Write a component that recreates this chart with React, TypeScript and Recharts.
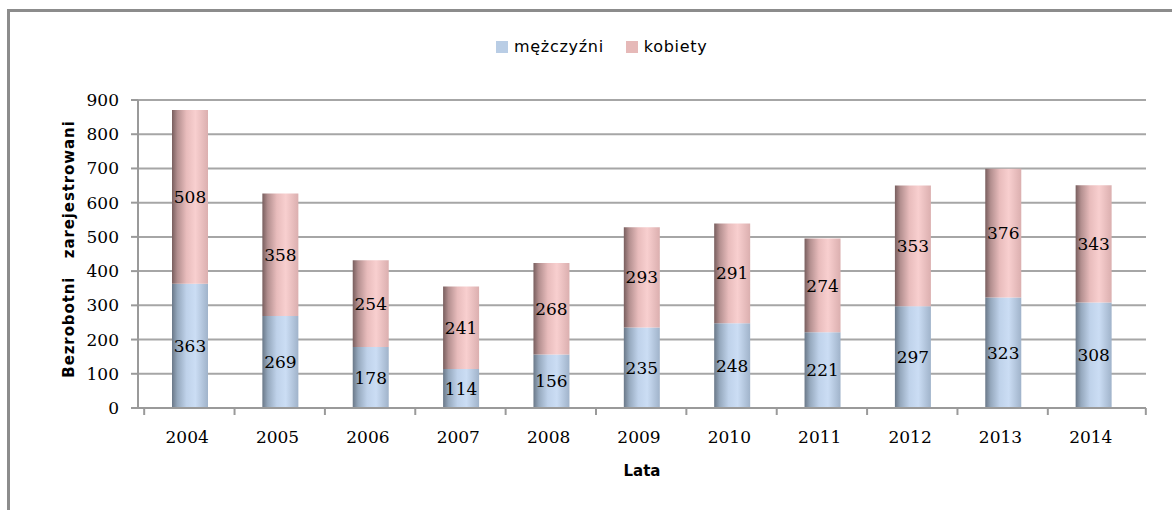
import React from 'react';
import { BarChart, Bar, XAxis, YAxis, CartesianGrid, Legend, LabelList } from 'recharts';

const years = ['2004', '2005', '2006', '2007', '2008', '2009', '2010', '2011', '2012', '2013', '2014'];
const men = [363, 269, 178, 114, 156, 235, 248, 221, 297, 323, 308];
const women = [508, 358, 254, 241, 268, 293, 291, 274, 353, 376, 343];
const yTicks = [0, 100, 200, 300, 400, 500, 600, 700, 800, 900];
const seriesNames = { men: 'mężczyźni', women: 'kobiety' };
const yLabel = 'Bezrobotni   zarejestrowani';
const xLabel = 'Lata';

const data = years.map((y, i) => ({ year: y, men: men[i], women: women[i] }));

const SERIF = '"DejaVu Serif", serif';
const SANS = '"DejaVu Sans", sans-serif';
const AXIS = '#9a9a9a';

const XTick = (props: any) => {
  const { x, y, payload, index } = props;
  const half = 46;
  return (
    <g>
      <line x1={x - half} x2={x - half} y1={y} y2={y + 7} stroke={AXIS} strokeWidth={2} />
      {index === years.length - 1 && (
        <line x1={x + half + 6} x2={x + half + 6} y1={y} y2={y + 7} stroke={AXIS} strokeWidth={2} />
      )}
      <text x={x - 3} y={y + 35} textAnchor="middle" fontFamily={SERIF} fontSize={17} fill="#000">
        {payload.value}
      </text>
    </g>
  );
};

const LegendContent = () => (
  <div style={{ display: 'flex', alignItems: 'center', fontFamily: SANS, fontSize: 16, letterSpacing: 0.7, color: '#000' }}>
    <span style={{ width: 12, height: 12, background: '#b9cde5', display: 'inline-block', marginRight: 6 }} />
    <span style={{ marginRight: 22 }}>{seriesNames.men}</span>
    <span style={{ width: 12, height: 12, background: '#e6b9b8', display: 'inline-block', marginRight: 6 }} />
    <span>{seriesNames.women}</span>
  </div>
);

export default function App() {
  return (
    <div style={{ position: 'absolute', left: 0, top: 0, width: 1172, height: 510, overflow: 'hidden', background: '#fff' }}>
      <div style={{ position: 'absolute', left: 7, top: 9, width: 1300, height: 700, border: '3px solid #8c8c8c', boxSizing: 'border-box' }} />
      <div style={{ position: 'absolute', left: 0, top: 0 }}>
        <BarChart width={1172} height={510} data={data} margin={{ top: 100, right: 26, bottom: 40, left: 0 }} barSize={36}>
          <defs>
            <linearGradient id="gBlue" x1="0" y1="0" x2="1" y2="0">
              <stop offset="0%" stopColor="#6a7888" />
              <stop offset="15%" stopColor="#95a8bd" />
              <stop offset="40%" stopColor="#bfd2ea" />
              <stop offset="65%" stopColor="#cbddf4" />
              <stop offset="100%" stopColor="#a0b3ca" />
            </linearGradient>
            <linearGradient id="gPink" x1="0" y1="0" x2="1" y2="0">
              <stop offset="0%" stopColor="#785e5e" />
              <stop offset="15%" stopColor="#b38f8f" />
              <stop offset="40%" stopColor="#e8bcbc" />
              <stop offset="65%" stopColor="#f8cfcf" />
              <stop offset="100%" stopColor="#dbafaf" />
            </linearGradient>
          </defs>
          <CartesianGrid vertical={false} stroke="#a6a6a6" strokeWidth={2} />
          <XAxis
            dataKey="year"
            height={62}
            padding={{ left: 7, right: 7 }}
            axisLine={{ stroke: AXIS, strokeWidth: 2 }}
            tickLine={false}
            tickSize={0}
            tickMargin={0}
            interval={0}
            tick={<XTick />}
            label={{ value: xLabel, position: 'insideBottom', offset: -6, fill: '#000', fontFamily: SANS, fontSize: 15, fontWeight: 'bold' }}
          />
          <YAxis
            width={138}
            domain={[0, 900]}
            ticks={yTicks}
            interval={0}
            axisLine={{ stroke: AXIS, strokeWidth: 2 }}
            tickLine={{ stroke: AXIS, strokeWidth: 2 }}
            tickSize={7}
            tickMargin={12}
            tick={{ fill: '#000', fontFamily: SERIF, fontSize: 17 }}
            label={{
              content: () => (
                <text
                  x={74}
                  y={249}
                  transform="rotate(-90 74 249)"
                  textAnchor="middle"
                  fontFamily={SANS}
                  fontSize={15}
                  fontWeight="bold"
                  letterSpacing={0.9}
                  fill="#000"
                  style={{ whiteSpace: 'pre' }}
                >
                  {yLabel}
                </text>
              ),
            }}
          />
          <Legend
            layout="horizontal"
            verticalAlign="middle"
            align="center"
            wrapperStyle={{ position: 'absolute', left: 496, top: 37, width: 'auto' }}
            content={<LegendContent />}
          />
          <Bar dataKey="men" name={seriesNames.men} stackId="a" fill="url(#gBlue)" isAnimationActive={false}>
            <LabelList dataKey="men" position="center" fill="#000" fontFamily={SERIF} fontSize={17} />
          </Bar>
          <Bar dataKey="women" name={seriesNames.women} stackId="a" fill="url(#gPink)" isAnimationActive={false}>
            <LabelList dataKey="women" position="center" fill="#000" fontFamily={SERIF} fontSize={17} />
          </Bar>
        </BarChart>
      </div>
    </div>
  );
}
